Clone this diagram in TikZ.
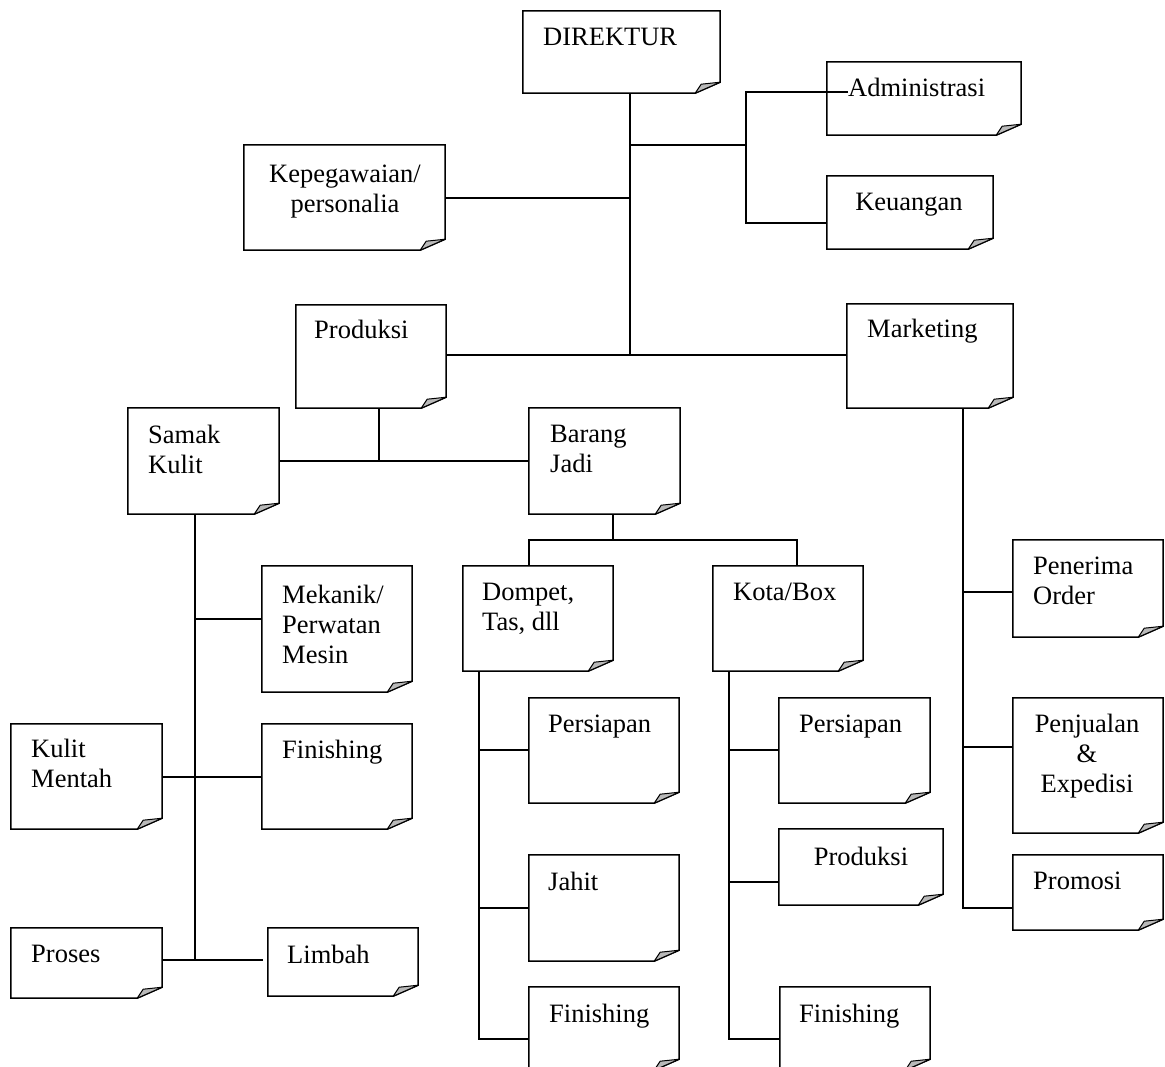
\documentclass[tikz,border=0pt]{standalone}
\usepackage{fontspec}
\setmainfont{Liberation Serif}
\usetikzlibrary{fit}
\definecolor{flapgray}{RGB}{185,185,185}
\tikzset{
  docbox/.style={inner sep=0pt, draw=none},
  docline/.style={line width=1.5pt, line join=miter, fill=white},
  flap/.style={line width=1pt, fill=flapgray, line join=round},
  conn/.style={line width=1.5pt},
  txt/.style={inner sep=0pt, anchor=north west, align=left, font=\fontsize{26.5}{30}\selectfont},
  ctxt/.style={inner sep=0pt, anchor=north, align=center, font=\fontsize{26.5}{30}\selectfont}
}
\newcommand\docnode[5]{%
  \path (#2,#3) coordinate (#1-a) (#4,#5) coordinate (#1-b);
  \node[docbox, fit=(#1-a)(#1-b)] (#1) {};
  \draw[docline] (#1.north west) -- (#1.north east) -- ([yshift=11pt]#1.south east)
     -- ([xshift=-25pt]#1.south east) -- (#1.south west) -- cycle;
  \draw[flap] ([xshift=-25pt]#1.south east) .. controls ([xshift=-22pt,yshift=5pt]#1.south east) .. ([xshift=-19pt,yshift=9pt]#1.south east)
     -- ([yshift=11pt]#1.south east) -- cycle;
}
\begin{document}
\begin{tikzpicture}[x=1pt,y=-1pt]
\useasboundingbox (0,0) rectangle (1165,1066);
\clip (0,0) rectangle (1165,1066);
\fill[white] (0,0) rectangle (1165,1066);

% junction coordinates
\coordinate (s0) at (630,355);
\coordinate (s1) at (630,198);
\coordinate (s2) at (630,145);
\coordinate (a0) at (746,145);
\coordinate (a1) at (746,92);
\coordinate (a2) at (746,223);
\coordinate (p0) at (379,461);
\coordinate (b0) at (613,540);
\coordinate (b1) at (529,540);
\coordinate (b2) at (797,540);
\coordinate (k0) at (195,960);
\coordinate (k1) at (195,619);
\coordinate (k2) at (195,777);
\coordinate (d0) at (479,1039);
\coordinate (d1) at (479,750);
\coordinate (d2) at (479,908);
\coordinate (t0) at (729,1039);
\coordinate (t1) at (729,750);
\coordinate (t2) at (729,882);
\coordinate (m0) at (963,908);
\coordinate (m1) at (963,592);
\coordinate (m2) at (963,747);

% boxes
\docnode{dir}{523}{11}{720}{93}
\docnode{adm}{827}{62}{1021}{135}
\docnode{keu}{827}{176}{993}{249}
\docnode{kep}{244}{145}{445}{250}
\docnode{prod}{296}{305}{446}{408}
\docnode{mkt}{847}{304}{1013}{408}
\docnode{samak}{128}{408}{279}{514}
\docnode{barang}{529}{408}{680}{514}
\docnode{dompet}{463}{566}{613}{671}
\docnode{kota}{713}{566}{863}{671}
\docnode{mek}{262}{566}{412}{692}
\docnode{kulit}{11}{724}{162}{829}
\docnode{fina}{262}{724}{412}{829}
\docnode{proses}{11}{928}{162}{998}
\docnode{limbah}{268}{928}{418}{996}
\docnode{persa}{529}{698}{679}{803}
\docnode{jahit}{529}{855}{679}{961}
\docnode{finb}{529}{987}{679}{1070}
\docnode{persb}{779}{698}{930}{803}
\docnode{prodb}{779}{829}{943}{905}
\docnode{finc}{780}{987}{930}{1070}
\docnode{pen}{1013}{540}{1163}{637}
\docnode{jual}{1013}{698}{1163}{833}
\docnode{promo}{1013}{855}{1163}{930}

% texts
\node[txt] (dir-t) at (543,28) {DIREKTUR};
\node[txt] (adm-t) at (848,78) {Administrasi};
\node[ctxt] (keu-t) at (909,193) {Keuangan};
\node[ctxt] (kep-t) at (345,165) {Kepegawaian/\\personalia};
\node[txt] (prod-t) at (314,320) {Produksi};
\node[txt] (mkt-t) at (867,319) {Marketing};
\node[txt] (samak-t) at (148,425) {Samak\\Kulit};
\node[txt] (barang-t) at (550,425) {Barang\\Jadi};
\node[txt] (dompet-t) at (482,583) {Dompet,\\Tas, dll};
\node[txt] (kota-t) at (733,583) {Kota/Box};
\node[txt] (mek-t) at (282,585) {Mekanik/\\Perwatan\\Mesin};
\node[txt] (kulit-t) at (31,739) {Kulit\\Mentah};
\node[txt] (fina-t) at (282,740) {Finishing};
\node[txt] (proses-t) at (31,945) {Proses};
\node[txt] (limbah-t) at (287,945) {Limbah};
\node[txt] (persa-t) at (548,715) {Persiapan};
\node[txt] (jahit-t) at (548,872) {Jahit};
\node[txt] (finb-t) at (549,1004) {Finishing};
\node[txt] (persb-t) at (799,715) {Persiapan};
\node[ctxt] (prodb-t) at (861,847) {Produksi};
\node[txt] (finc-t) at (799,1004) {Finishing};
\node[txt] (pen-t) at (1033,557) {Penerima\\Order};
\node[ctxt] (jual-t) at (1087,714) {Penjualan\\\&\\Expedisi};
\node[txt] (promo-t) at (1033,872) {Promosi};

% connectors
\draw[conn] (dir.south -| s0) -- (s0);
\draw[conn] (prod.east |- s0) -- (mkt.west |- s0);
\draw[conn] (kep.east |- s1) -- (s1);
\draw[conn] (s2) -- (a0);
\draw[conn] (a1 -| adm-t.west) -- (a1) -- (a2) -- (keu.west |- a2);
\draw[conn] (prod.south -| p0) -- (p0);
\draw[conn] (samak.east |- p0) -- (barang.west |- p0);
\draw[conn] (barang.south -| b0) -- (b0);
\draw[conn] (dompet.north -| b1) -- (b1) -- (b2) -- (kota.north -| b2);
\draw[conn] (samak.south -| k0) -- (k0);
\draw[conn] (k1) -- (mek.west |- k1);
\draw[conn] (kulit.east |- k2) -- (fina.west |- k2);
\draw[conn] (proses.east |- k0) -- ([xshift=-5pt]limbah.west |- k0);
\draw[conn] (dompet.south -| d0) -- (d0) -- (finb.west |- d0);
\draw[conn] (d1) -- (persa.west |- d1);
\draw[conn] (d2) -- (jahit.west |- d2);
\draw[conn] (kota.south -| t0) -- (t0) -- (finc.west |- t0);
\draw[conn] (t1) -- (persb.west |- t1);
\draw[conn] (t2) -- (prodb.west |- t2);
\draw[conn] (mkt.south -| m0) -- (m0) -- (promo.west |- m0);
\draw[conn] (m1) -- (pen.west |- m1);
\draw[conn] (m2) -- (jual.west |- m2);
\end{tikzpicture}
\end{document}
